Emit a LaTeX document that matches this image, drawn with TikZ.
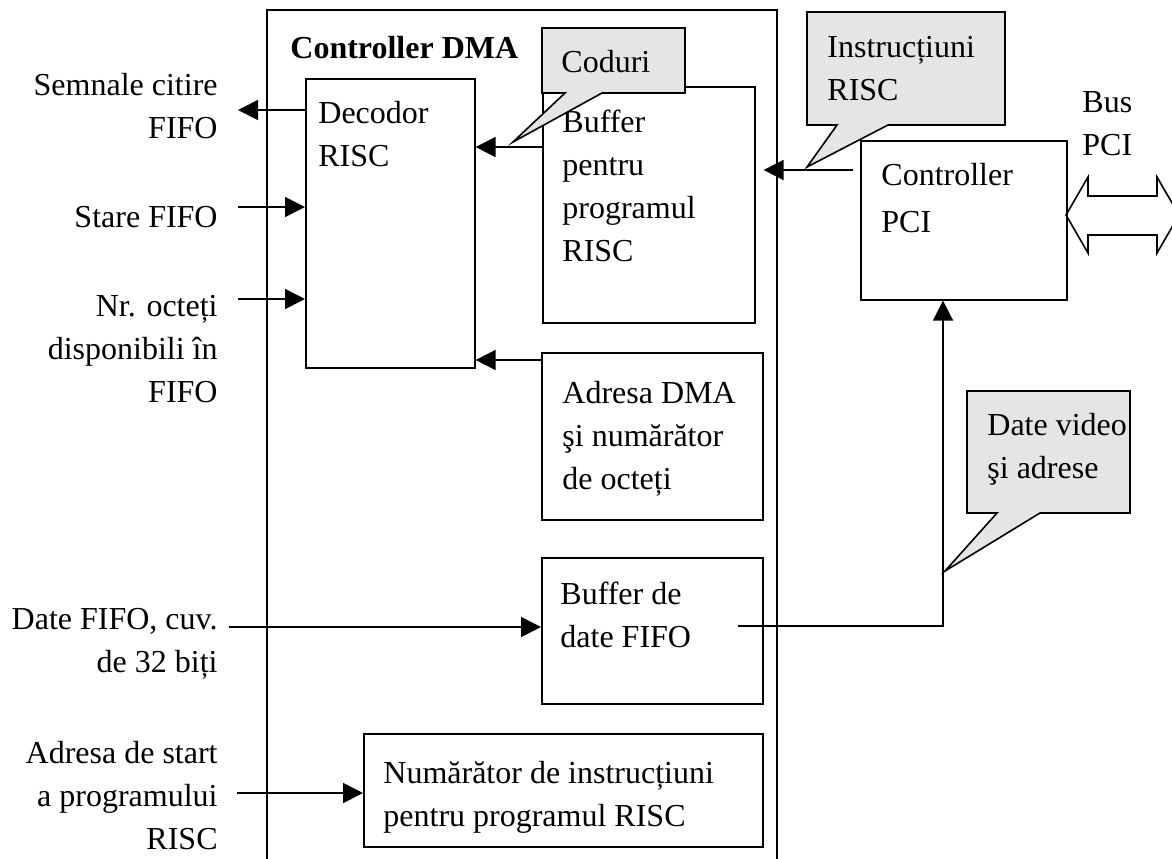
\documentclass[tikz,border=0pt]{standalone}
\usepackage{fontspec}
\setmainfont{Liberation Serif}
\usetikzlibrary{positioning, arrows.meta}

\begin{document}
\begin{tikzpicture}[
    x=0.5pt, y=-0.5pt,
    font=\fontsize{16pt}{21.5pt}\selectfont,
    box/.style={draw, line width=0.8pt, anchor=north west, inner sep=0pt},
    txt/.style={inner sep=0pt, align=left, anchor=north west},
    lbl/.style={inner sep=0pt, align=right, anchor=north east},
    bubble/.style={draw, line width=0.8pt, fill=gray!20},
    arr/.style={-{Triangle[length=10pt, width=10pt]}, line width=0.8pt}
]
    \useasboundingbox (0,0) rectangle (1172,858);

    % DMA controller frame
    \draw[line width=0.8pt] (267,870) -- (267,10) -- (777,10) -- (777,870);
    \node[txt, font=\fontsize{16pt}{21.5pt}\selectfont\bfseries] (dmaTitle) at (290,36) {Controller DMA};

    % blocks
    \node[box, minimum width=84.5pt, minimum height=144.5pt] (dec) at (305,78) {};
    \node[box, minimum width=106pt, minimum height=118pt] (buf) at (542,86) {};
    \node[box, minimum width=110.5pt, minimum height=83.5pt] (adr) at (541,352) {};
    \node[box, minimum width=110.5pt, minimum height=73pt] (dat) at (541,557) {};
    \node[box, minimum width=199.5pt, minimum height=56.5pt] (cnt) at (363,733) {};
    \node[box, minimum width=103pt, minimum height=79.5pt] (pci) at (860,140) {};

    \node[txt] (decTxt) at (318,101) {Decodor\\RISC};
    \node[txt] (bufTxt) at (562,110) {Buffer\\pentru\\programul\\RISC};
    \node[txt] (adrTxt) at (562,381) {Adresa DMA\\şi numărător\\de octeți};
    \node[txt] (datTxt) at (560,582) {Buffer de\\date FIFO};
    \node[txt] (cntTxt) at (383,761) {Numărător de instrucțiuni\\pentru programul RISC};
    \node[txt] (pciTxt) at (881,163) {Controller\\[2pt]PCI};
    \node[txt] (busTxt) at (1082,91) {Bus\\PCI};

    % signals on the left
    \node[lbl] (semnTxt) at (218,73) {Semnale citire\\FIFO};
    \node[lbl] (stareTxt) at (218,206) {Stare FIFO};
    \node[lbl] (nrTxt) at (218,295) {Nr. octeți\\disponibili în\\FIFO};
    \node[lbl] (dateTxt) at (218,608) {Date FIFO, cuv.\\de 32 biți};
    \node[lbl] (startTxt) at (218,741) {Adresa de start\\a programului\\RISC};

    \coordinate (semnOut) at (238,110);
    \coordinate (stareIn) at (238,207);
    \coordinate (nrIn) at (238,299);
    \coordinate (dateIn) at (229,627);
    \coordinate (startIn) at (237,793);
    \coordinate (codY) at (0,147);
    \coordinate (adrY) at (0,360);
    \coordinate (instrY) at (0,170);
    \coordinate (datOut) at (738,626);
    \coordinate (vidUp) at (943,626);

    \draw[arr] (dec.west |- semnOut) -- (semnOut);
    \draw[arr] (stareIn) -- (stareIn -| dec.west);
    \draw[arr] (nrIn) -- (nrIn -| dec.west);
    \draw[arr] (dateIn) -- (dateIn -| dat.west);
    \draw[arr] (startIn) -- (startIn -| cnt.west);
    \draw[arr] (buf.west |- codY) -- (dec.east |- codY);
    \draw[arr] (adr.west |- adrY) -- (dec.east |- adrY);
    \draw[arr, shorten <=3.5pt, shorten >=4pt] (pci.west |- instrY) -- (buf.east |- instrY);
    \draw[arr] (datOut) -- (vidUp) -- (vidUp |- pci.south);

    % callouts
    \draw[bubble] (542,28) -- (685,28) -- (685,93) -- (602,93) -- (513,142) -- (565,93) -- (542,93) -- cycle;
    \node[txt] (codTxt) at (561,50) {Coduri};
    \draw[bubble] (807,12) -- (1005,12) -- (1005,125) -- (888,125) -- (807,167) -- (837,125) -- (807,125) -- cycle;
    \node[txt] (instrTxt) at (827,36) {Instrucțiuni\\RISC};
    \draw[bubble] (967,391) -- (1130,391) -- (1130,513) -- (1040,513) -- (945,571) -- (997,513) -- (967,513) -- cycle;
    \node[txt] (vidTxt) at (987,413) {Date video\\şi adrese};

    % PCI bus
    \draw[line width=0.8pt] (1066,215) -- (1088,177) -- (1088,196) -- (1157,196) -- (1157,177) -- (1179,215)
        -- (1157,253) -- (1157,235) -- (1088,235) -- (1088,253) -- cycle;
\end{tikzpicture}
\end{document}
